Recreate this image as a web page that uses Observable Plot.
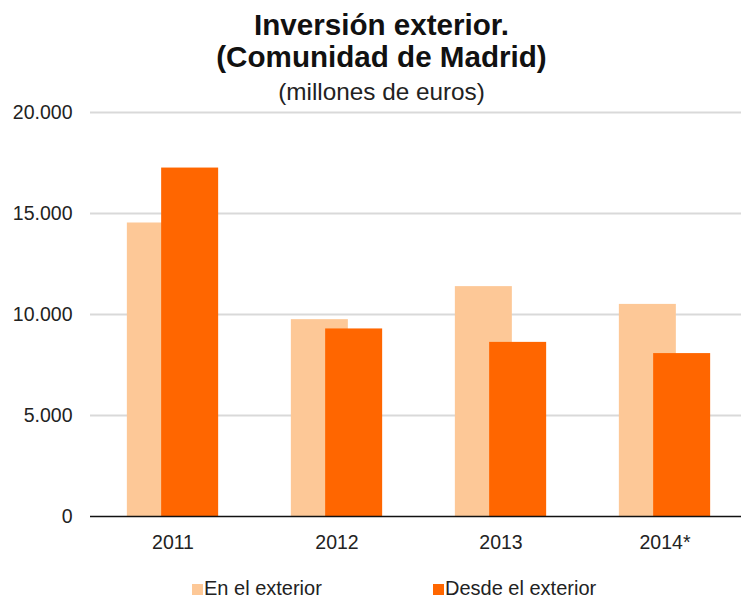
<!DOCTYPE html>
<html>
<head>
<meta charset="utf-8">
<script src="https://cdn.jsdelivr.net/npm/d3@7"></script>
<script src="https://cdn.jsdelivr.net/npm/@observablehq/plot@0.6"></script>
<style>
  html, body { margin: 0; padding: 0; background: #fff; }
  body { width: 741px; height: 601px; overflow: hidden; font-family: "Liberation Sans", Arial, sans-serif; color: #111; }
  #head { position: relative; height: 100px; }
  #head div { position: absolute; left: 11px; width: 741px; text-align: center; white-space: nowrap; }
  .t1 { font-weight: bold; font-size: 29.6px; line-height: 34px; }
  .sub { font-size: 24.3px; line-height: 24px; color: #222; }
  #legend { position: relative; height: 36px; font-size: 20px; color: #222; }
  .item { position: absolute; top: 12px; line-height: 22px; white-space: nowrap; }
  .sw { display: inline-block; width: 11px; height: 11px; vertical-align: 0px; margin-right: 1px; }
</style>
</head>
<body>
<div id="head">
  <div class="t1" style="top:8px">Inversión exterior.</div>
  <div class="t1" style="top:40px">(Comunidad de Madrid)</div>
  <div class="sub" style="top:80px">(millones de euros)</div>
</div>
<div id="chart"></div>
<div id="legend"></div>
<script>
const years = ["2011", "2012", "2013", "2014*"];
const enElExterior = [14530, 9745, 11380, 10500];
const desdeElExterior = [17250, 9285, 8620, 8065];
const yTicks = [0, 5000, 10000, 15000, 20000];
const seriesNames = ["En el exterior", "Desde el exterior"];
const seriesColors = ["#fdc897", "#ff6600"];

const rows = years.map((y, i) => ({year: y, en: enElExterior[i], desde: desdeElExterior[i]}));
const fmt = d => d3.format(",")(d).replace(/,/g, ".");

const chart = Plot.plot({
  width: 741,
  height: 465,
  marginTop: 12,
  marginBottom: 49,
  marginLeft: 90,
  marginRight: 0,
  style: {fontFamily: "Liberation Sans, Arial, sans-serif", fontSize: "19.5px", color: "#222", background: "#fff", overflow: "visible"},
  x: {domain: years, range: [90, 747.3], paddingInner: 0.655, paddingOuter: 0.3275, label: null},
  y: {domain: [0, 20000], label: null},
  marks: [
    Plot.ruleY(yTicks.filter(d => d > 0), {stroke: "#d9d9d9", strokeWidth: 2}),
    Plot.barY(rows, {x: "year", y: "en", fill: seriesColors[0], dx: -17.15}),
    Plot.barY(rows, {x: "year", y: "desde", fill: seriesColors[1], dx: 17.15}),
    Plot.ruleY([0], {stroke: "#111", strokeWidth: 1.5}),
    Plot.axisY({ticks: yTicks, tickFormat: fmt, tickSize: 0, tickPadding: 18, label: null}),
    Plot.axisX({tickSize: 0, tickPadding: 19, label: null})
  ]
});
document.getElementById("chart").appendChild(chart);

const legend = document.getElementById("legend");
const legendX = [192, 433];
seriesNames.forEach((name, i) => {
  const el = document.createElement("div");
  el.className = "item";
  el.style.left = legendX[i] + "px";
  el.innerHTML = `<span class="sw" style="background:${seriesColors[i]}"></span>${name}`;
  legend.appendChild(el);
});
</script>
</body>
</html>
